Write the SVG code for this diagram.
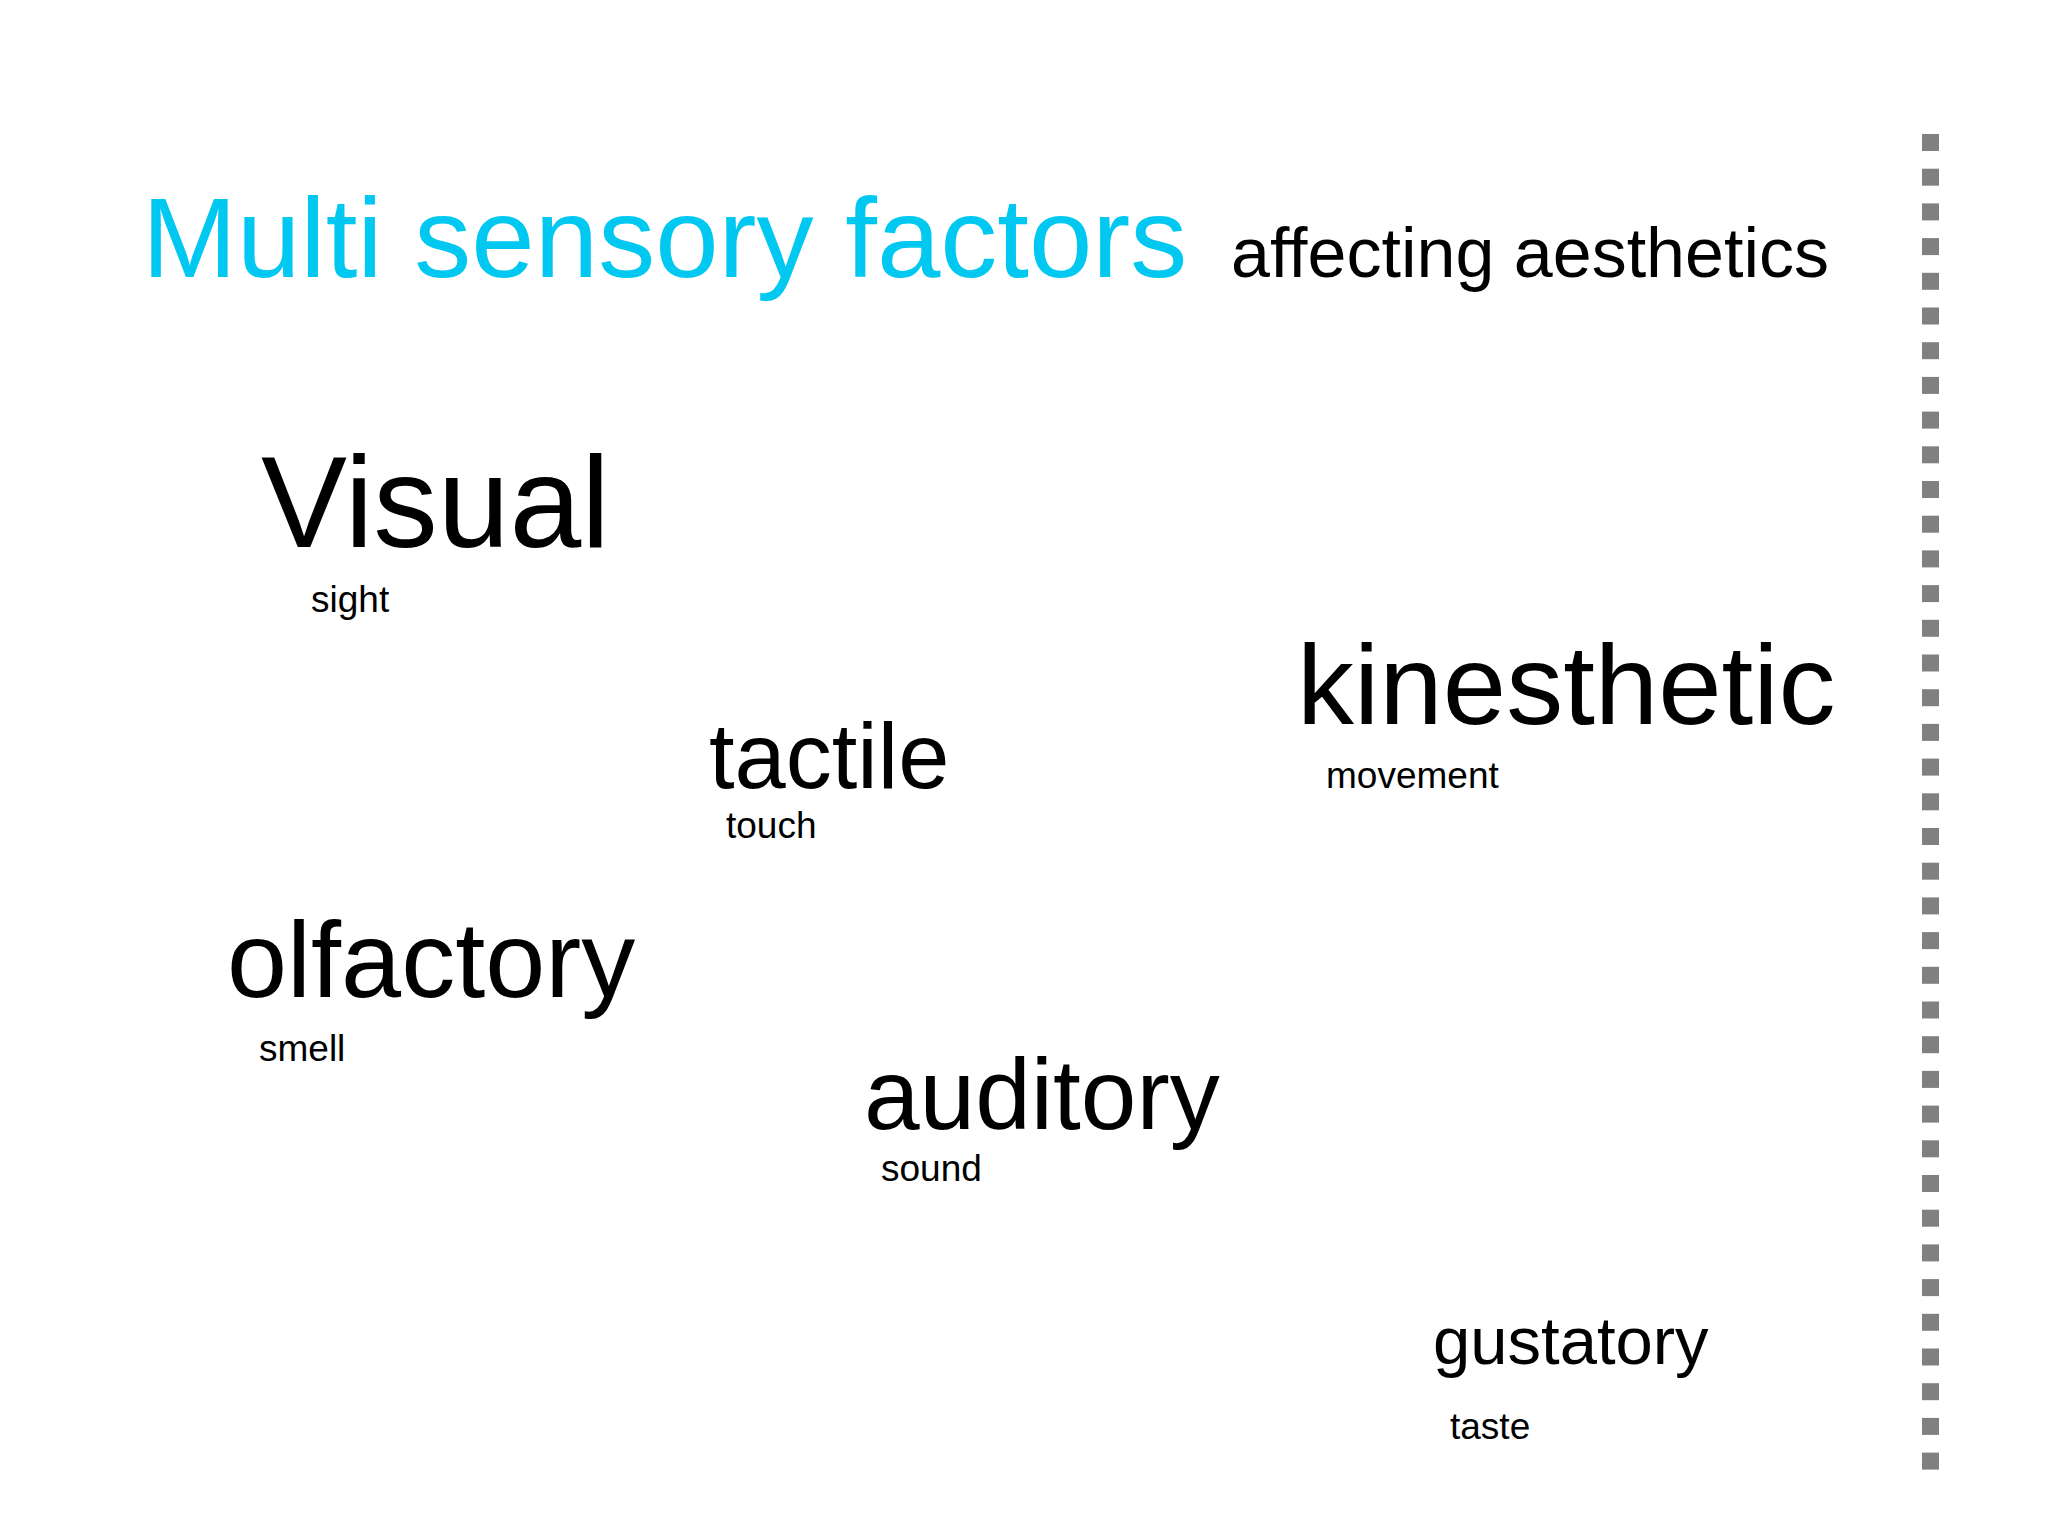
<svg xmlns="http://www.w3.org/2000/svg" width="2048" height="1534" viewBox="0 0 2048 1534">
<style>
text{font-family:"Liberation Sans",Arial,sans-serif;fill:#000}
.t{fill:#00c8f0}
.sub{font-size:37px}
</style>
<defs><rect id="sq" width="17" height="17" fill="#808080"/></defs>
<rect width="2048" height="1534" fill="#fff"/>
<g id="title"><text x="142" y="277" font-size="114" class="t">Multi sensory factors</text><text x="1231" y="277" font-size="70">affecting aesthetics</text></g>
<g id="visual"><text x="261" y="547" font-size="129">Visual</text><text x="311" y="612" class="sub">sight</text></g>
<g id="kinesthetic"><text x="1297" y="724" font-size="114">kinesthetic</text><text x="1326" y="788" class="sub">movement</text></g>
<g id="tactile"><text x="709" y="788" font-size="92">tactile</text><text x="726" y="838" class="sub">touch</text></g>
<g id="olfactory"><text x="227" y="997" font-size="108">olfactory</text><text x="259" y="1061" class="sub">smell</text></g>
<g id="auditory"><text x="864" y="1129" font-size="100">auditory</text><text x="881" y="1181" class="sub">sound</text></g>
<g id="gustatory"><text x="1433" y="1364" font-size="67">gustatory</text><text x="1450" y="1439" class="sub">taste</text></g>
<g id="divider">
<use href="#sq" x="1922" y="134"/><use href="#sq" x="1922" y="168.7"/><use href="#sq" x="1922" y="203.4"/><use href="#sq" x="1922" y="238.1"/><use href="#sq" x="1922" y="272.8"/><use href="#sq" x="1922" y="307.5"/><use href="#sq" x="1922" y="342.2"/><use href="#sq" x="1922" y="376.9"/><use href="#sq" x="1922" y="411.6"/><use href="#sq" x="1922" y="446.3"/><use href="#sq" x="1922" y="481"/><use href="#sq" x="1922" y="515.7"/><use href="#sq" x="1922" y="550.4"/><use href="#sq" x="1922" y="585.1"/><use href="#sq" x="1922" y="619.8"/><use href="#sq" x="1922" y="654.5"/><use href="#sq" x="1922" y="689.2"/><use href="#sq" x="1922" y="723.9"/><use href="#sq" x="1922" y="758.6"/><use href="#sq" x="1922" y="793.3"/><use href="#sq" x="1922" y="828"/><use href="#sq" x="1922" y="862.7"/><use href="#sq" x="1922" y="897.4"/><use href="#sq" x="1922" y="932.1"/><use href="#sq" x="1922" y="966.8"/><use href="#sq" x="1922" y="1001.5"/><use href="#sq" x="1922" y="1036.2"/><use href="#sq" x="1922" y="1070.9"/><use href="#sq" x="1922" y="1105.6"/><use href="#sq" x="1922" y="1140.3"/><use href="#sq" x="1922" y="1175"/><use href="#sq" x="1922" y="1209.7"/><use href="#sq" x="1922" y="1244.4"/><use href="#sq" x="1922" y="1279.1"/><use href="#sq" x="1922" y="1313.8"/><use href="#sq" x="1922" y="1348.5"/><use href="#sq" x="1922" y="1383.2"/><use href="#sq" x="1922" y="1417.9"/><use href="#sq" x="1922" y="1452.6"/>
</g>
</svg>
